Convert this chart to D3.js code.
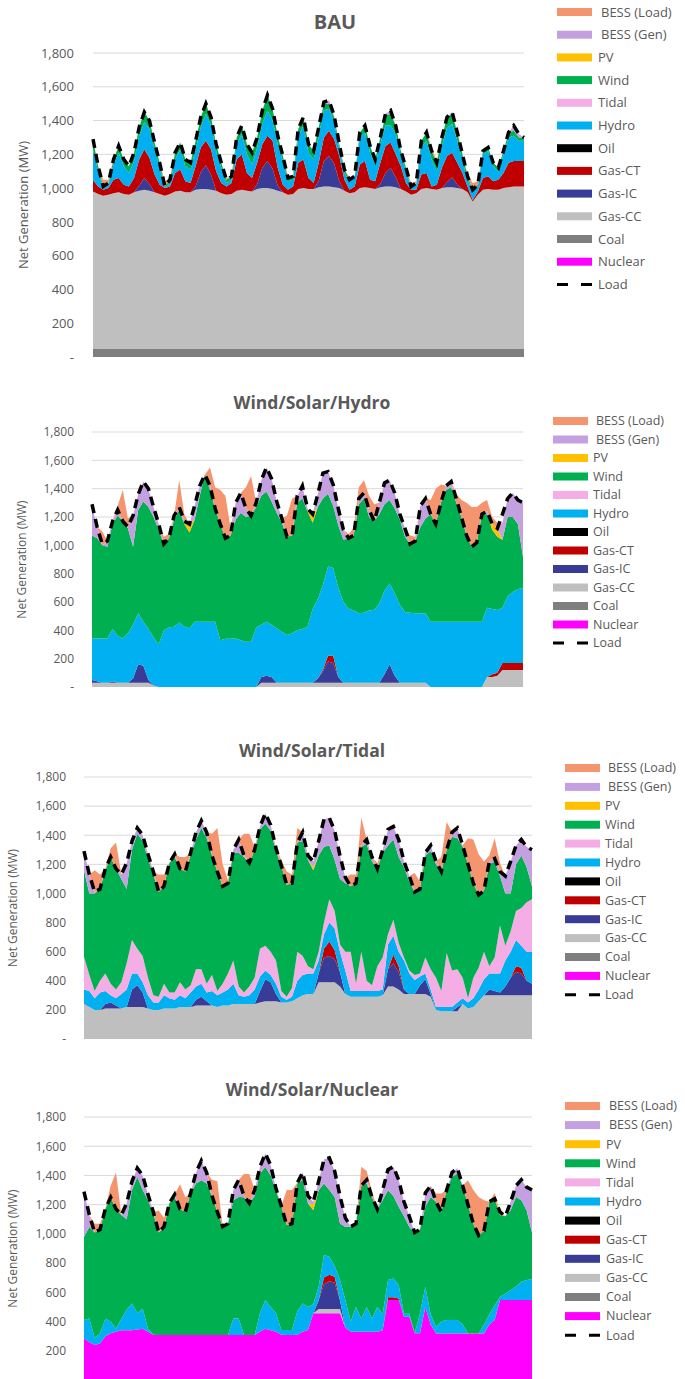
<!DOCTYPE html>
<html>
<head>
<meta charset="utf-8">
<script src="https://cdn.jsdelivr.net/npm/d3@7"></script>
<style>
  body { margin: 0; background: #fff; }
  svg { display: block; font-family: 'Open Sans', 'Liberation Sans', sans-serif; }
</style>
</head>
<body>
<div id="chart"></div>
<script>
// hour of the week, one point every 2 hours
const hours = d3.range(0, 169, 2);
const yTicks = [0, 200, 400, 600, 800, 1000, 1200, 1400, 1600, 1800];
const stackOrder = ['Nuclear', 'Coal', 'Gas-CC', 'Gas-IC', 'Gas-CT', 'Oil', 'Hydro', 'Tidal', 'Wind', 'PV', 'BESS (Gen)', 'BESS (Load)'];
const legendLabels = ['BESS (Load)', 'BESS (Gen)', 'PV', 'Wind', 'Tidal', 'Hydro', 'Oil', 'Gas-CT', 'Gas-IC', 'Gas-CC', 'Coal', 'Nuclear', 'Load'];

const load = [
  1290,1130,1010,1030,1170,1250,1170,1130,1210,1360,1450,1400,
  1270,1150,1010,1050,1210,1270,1170,1150,1280,1420,1500,1420,
  1260,1150,1050,1070,1300,1370,1260,1210,1300,1460,1550,1470,
  1310,1190,1060,1070,1350,1420,1260,1220,1360,1510,1520,1430,
  1260,1110,1050,1070,1330,1370,1250,1170,1300,1440,1460,1370,
  1220,1120,1010,1030,1280,1330,1220,1150,1300,1420,1450,1330,
  1200,1070,990,1020,1220,1240,1150,1120,1220,1330,1370,1320,1300
];

// ---- BAU ----
const bauCoal = [
  50,50,50,50,50,50,50,50,50,50,50,50,
  50,50,50,50,50,50,50,50,50,50,50,50,
  50,50,50,50,50,50,50,50,50,50,50,50,
  50,50,50,50,50,50,50,50,50,50,50,50,
  50,50,50,50,50,50,50,50,50,50,50,50,
  50,50,50,50,50,50,50,50,50,50,50,50,
  50,50,50,50,50,50,50,50,50,50,50,50,50
];
const bauGasCC = [
  930,915,905,910,920,925,915,910,925,935,940,935,
  925,915,905,915,930,935,925,925,940,945,945,940,
  935,920,910,915,935,940,935,930,945,950,950,945,
  935,925,910,915,945,950,945,945,955,960,960,955,
  950,935,920,925,950,955,950,945,955,960,960,955,
  945,930,910,920,945,950,945,940,950,955,955,950,
  945,925,870,910,940,945,940,940,950,955,960,960,960
];
const bauGasIC = [
  0,0,0,0,0,0,0,0,0,30,70,40,
  0,0,0,0,0,0,0,0,20,100,140,90,
  0,0,0,0,0,0,0,0,30,120,160,120,
  30,0,0,0,0,0,0,0,40,150,180,140,
  40,0,0,0,0,0,0,0,20,80,110,60,
  0,0,0,0,0,0,0,0,0,30,60,20,
  0,0,0,0,0,0,0,0,0,0,0,0,0
];
const bauGasCT = [
  70,45,35,40,80,85,55,50,85,155,170,155,
  105,55,45,45,110,125,65,55,120,145,145,150,
  115,60,50,65,185,210,105,80,125,140,150,165,
  105,45,30,45,155,170,65,35,105,140,150,145,
  150,65,20,35,140,155,50,45,125,160,150,135,
  135,50,30,20,85,90,15,30,120,155,145,130,
  95,35,10,20,70,75,50,60,90,145,150,150,150
];
const bauHydro = [
  180,90,10,20,90,150,110,80,100,140,160,170,
  150,100,0,20,80,120,90,80,100,120,160,140,
  120,90,20,20,90,120,110,80,90,120,150,120,
  140,140,50,40,160,200,150,140,160,160,130,100,
  50,40,50,50,160,170,160,100,110,120,100,120,
  60,70,10,30,160,190,160,80,130,170,170,130,
  70,40,50,30,140,150,90,50,110,150,150,120,120
];
const bauWind = [
  60,30,10,10,30,40,40,40,50,50,60,50,
  40,30,10,20,40,40,40,40,50,60,60,50,
  40,30,20,20,40,50,60,70,60,80,90,70,
  50,30,20,20,40,50,50,50,50,40,30,30,
  20,20,10,10,30,40,40,30,40,60,70,50,
  30,20,10,10,40,50,50,50,50,60,60,50,
  40,20,10,10,20,20,20,20,20,30,30,20,20
];
const bauBessGen = [
  0,0,0,0,0,0,0,0,0,0,0,0,
  0,0,0,0,0,0,0,0,0,0,0,0,
  0,0,0,0,0,0,0,0,0,0,0,0,
  0,0,0,0,0,0,0,0,0,10,20,10,
  0,0,0,0,0,0,0,0,0,10,20,0,
  0,0,0,0,0,0,0,0,0,0,10,0,
  0,0,0,0,0,0,0,0,0,0,30,20,0
];
const bauBessLoad = [
  0,0,40,20,0,0,0,0,0,0,0,0,
  0,0,30,10,0,0,0,0,0,0,0,0,
  0,0,10,0,0,0,0,0,0,0,0,0,
  0,0,15,0,0,0,0,0,0,0,0,0,
  0,0,15,0,0,0,0,0,0,0,0,0,
  0,0,20,10,0,0,20,10,0,0,0,0,
  0,10,40,20,0,0,0,0,0,0,0,0,0
];

// ---- Wind/Solar/Hydro ----
const wshGasCC = [
  30,30,30,30,30,30,30,30,30,30,30,30,
  10,0,0,0,0,0,0,0,0,0,0,0,
  0,0,0,0,0,0,0,0,0,30,30,30,
  30,30,30,30,30,30,30,30,30,30,30,30,
  30,30,30,30,30,30,30,30,30,30,30,30,
  30,30,30,30,30,30,0,0,0,0,0,0,
  0,0,0,0,0,70,70,80,120,120,120,120,120
];
const wshGasIC = [
  20,10,0,0,10,0,0,0,30,130,120,20,
  0,0,0,0,0,0,0,0,0,0,0,0,
  0,0,0,0,0,0,0,0,0,40,50,40,
  0,0,0,0,0,0,0,0,30,80,150,140,
  40,0,0,0,0,0,0,0,0,60,130,50,
  0,0,0,0,0,0,0,0,0,0,0,0,
  0,0,0,0,0,0,0,0,0,0,0,0,0
];
const wshGasCT = [
  0,0,0,0,0,0,0,0,0,0,0,0,
  0,0,0,0,0,0,0,0,0,0,0,0,
  0,0,0,0,0,0,0,0,0,0,0,0,
  0,0,0,0,0,0,0,0,0,10,40,50,
  0,0,0,0,0,0,0,0,0,0,0,0,
  0,0,0,0,0,0,0,0,0,0,0,0,
  0,0,0,0,0,0,20,20,50,50,50,50,50
];
const wshHydro = [
  293,303,313,313,370,330,313,350,380,360,310,360,
  340,300,400,420,425,455,425,414,460,460,460,460,
  460,330,340,340,343,330,320,320,420,370,380,370,
  384,360,337,350,370,380,395,520,560,600,630,620,
  630,570,525,510,490,495,510,515,560,590,570,580,
  550,500,495,490,490,490,460,460,460,460,460,460,
  460,460,460,460,460,490,460,443,390,470,500,520,530
];
const wshWind = [
  727,707,657,647,740,850,827,740,550,730,850,860,
  850,810,610,630,755,795,725,676,720,890,1040,930,
  800,820,710,730,837,900,880,890,850,910,920,870,
  816,770,693,690,900,920,815,610,650,610,515,440,
  440,440,495,530,770,805,660,625,630,610,590,600,
  600,530,485,510,610,670,760,690,840,930,950,840,
  740,610,530,560,760,660,560,517,480,560,530,460,220
];
const wshPV = [
  0,0,0,0,0,0,0,0,0,0,0,0,
  0,0,0,0,0,0,0,60,0,0,0,0,
  0,0,0,0,0,0,0,0,0,0,0,0,
  0,0,0,0,0,0,0,60,0,0,0,0,
  0,0,0,0,0,0,0,0,0,0,0,0,
  0,0,0,0,0,0,0,0,0,0,0,0,
  0,0,0,0,0,0,40,60,0,0,0,0,0
];
const wshBessGen = [
  200,80,0,40,20,40,0,10,220,110,140,130,
  70,40,0,0,30,20,20,0,100,70,0,30,
  0,0,0,0,120,140,60,0,30,110,170,160,
  80,30,0,0,50,90,20,0,90,180,155,150,
  120,70,0,0,40,40,50,0,80,150,140,110,
  40,60,0,0,150,140,0,0,0,30,40,0,
  0,0,0,0,0,20,0,0,120,130,170,170,380
];
const wshBessLoad = [
  0,0,100,0,0,30,220,60,0,0,0,0,
  0,0,50,30,0,190,50,0,0,0,0,130,
  150,240,300,50,0,0,150,280,0,0,0,0,
  0,0,150,260,0,0,0,0,0,0,0,0,
  0,0,30,50,80,90,100,120,0,0,0,0,
  0,0,60,30,0,0,100,250,130,0,0,60,
  120,230,280,250,80,80,50,40,0,0,0,0,0
];

// ---- Wind/Solar/Tidal ----
const wstGasCC = [
  240,220,200,200,210,210,210,210,220,220,220,220,
  210,200,200,210,210,210,220,220,220,230,230,230,
  230,220,230,230,240,240,240,240,240,250,260,260,
  260,250,250,260,280,300,310,310,390,390,390,390,
  360,310,290,290,290,290,290,290,300,360,360,340,
  310,310,310,310,310,290,200,190,190,190,190,240,
  210,220,260,300,300,300,300,300,300,300,300,300,300
];
const wstGasIC = [
  0,0,0,0,30,40,20,0,0,120,150,100,
  0,0,0,0,0,0,0,0,0,40,60,30,
  0,0,0,0,0,0,0,0,0,80,150,130,
  50,0,0,0,0,0,0,0,60,170,180,160,
  100,0,0,0,0,0,0,0,0,120,160,120,
  30,0,0,60,100,20,0,0,0,0,30,0,
  0,0,0,0,40,30,20,60,120,160,150,100,80
];
const wstGasCT = [
  0,0,0,0,0,0,0,0,0,0,0,0,
  0,0,0,0,0,0,0,0,0,0,0,0,
  0,0,0,0,0,0,0,0,0,0,0,0,
  0,0,0,0,0,0,0,0,0,60,100,60,
  0,0,0,0,0,0,0,0,0,0,60,40,
  0,0,0,0,0,0,0,0,0,0,0,0,
  0,0,0,0,0,0,0,0,0,40,40,0,0
];
const wstHydro = [
  100,110,80,120,90,50,50,100,120,110,80,70,
  90,50,50,90,70,60,80,60,100,90,90,60,
  100,80,90,110,140,60,50,60,100,100,60,50,
  70,40,20,30,120,140,140,140,90,100,130,150,
  140,160,40,40,40,40,40,40,40,170,130,100,
  200,140,95,60,40,30,20,30,30,30,30,40,
  40,60,80,110,110,120,130,180,180,180,150,200,220
];
const wstTidal = [
  225,110,50,80,120,80,60,80,180,230,170,180,
  120,50,40,80,40,50,90,60,50,120,100,60,
  110,30,60,110,160,60,30,60,80,190,170,160,
  160,40,20,60,200,130,50,30,60,80,160,120,
  50,130,270,50,270,70,40,170,220,70,110,60,
  20,20,35,20,110,140,200,110,370,250,230,140,
  30,140,150,190,50,110,330,100,140,200,260,340,360
];
const wstWind = [
  595,560,670,630,710,870,830,710,510,620,790,790,
  820,830,720,670,890,930,780,810,890,890,970,1000,
  820,820,670,620,740,920,930,850,880,820,840,830,
  750,860,770,720,750,790,730,680,660,520,370,350,
  450,470,450,690,720,940,850,670,720,610,550,590,
  620,610,570,580,700,810,780,820,710,920,900,900,
  920,650,500,420,700,660,340,360,260,320,360,240,90
];
const wstPV = [
  0,0,0,0,0,0,0,0,0,0,0,0,
  0,0,0,0,0,0,0,0,0,0,0,0,
  0,0,0,0,0,0,0,0,0,0,0,0,
  0,0,0,0,0,0,0,20,0,0,0,0,
  0,0,0,0,0,0,0,0,0,0,0,0,
  0,0,0,0,0,0,0,0,0,0,0,0,
  0,0,0,0,0,0,0,0,0,0,0,0,0
];
const wstBessGen = [
  130,130,10,0,10,0,0,30,180,60,40,40,
  30,20,0,0,0,20,0,0,20,50,50,40,
  0,0,0,0,20,90,10,0,0,20,70,40,
  20,0,0,0,0,60,30,40,100,190,190,200,
  160,40,0,0,10,30,30,0,20,110,90,120,
  40,40,0,0,20,40,20,0,0,30,70,10,
  0,0,0,0,20,20,30,120,220,130,110,140,250
];
const wstBessLoad = [
  0,0,150,100,0,60,180,0,0,0,0,0,
  0,0,120,80,0,0,80,100,0,0,0,0,
  150,300,150,20,0,0,150,200,20,0,0,0,
  0,40,90,60,100,0,0,0,0,0,0,0,
  0,0,80,60,190,0,0,40,0,0,0,0,
  0,0,130,50,0,0,0,100,190,0,0,0,
  180,300,280,200,40,140,60,0,0,0,0,0,0
];

// ---- Wind/Solar/Nuclear ----
const wsnNuclear = [
  285,260,240,250,300,320,330,340,340,340,345,350,
  330,310,308,308,308,308,308,308,308,308,308,308,
  308,308,308,308,308,308,308,308,308,330,350,340,
  330,310,308,308,310,330,342,456,456,456,456,456,
  456,360,330,330,330,330,330,330,340,547,547,547,
  433,433,320,320,500,380,319,319,319,319,319,319,
  319,319,319,319,380,410,547,547,547,547,547,547,547
];
const wsnGasCC = [
  0,0,0,0,0,0,0,0,0,0,0,0,
  0,0,0,0,0,0,0,0,0,0,0,0,
  0,0,0,0,0,0,0,0,0,0,0,0,
  0,0,0,0,0,0,0,0,30,30,30,30,
  30,0,0,0,0,0,0,0,0,0,0,0,
  0,0,0,0,0,0,0,0,0,0,0,0,
  0,0,0,0,0,0,0,0,0,0,0,0,0
];
const wsnGasIC = [
  0,0,0,0,0,0,0,0,0,0,0,0,
  0,0,0,0,0,0,0,0,0,0,0,0,
  0,0,0,0,0,0,0,0,0,0,0,0,
  0,0,0,0,0,0,0,0,60,170,190,180,
  60,0,0,0,0,0,0,0,0,0,0,0,
  0,0,0,0,0,0,0,0,0,0,0,0,
  0,0,0,0,0,0,0,0,0,0,0,0,0
];
const wsnGasCT = [
  0,0,0,0,0,0,0,0,0,0,0,0,
  0,0,0,0,0,0,0,0,0,0,0,0,
  0,0,0,0,0,0,0,0,0,0,0,0,
  0,0,0,0,0,0,0,0,0,45,45,40,
  0,0,0,0,0,0,0,0,0,20,20,10,
  0,0,0,0,0,0,0,0,0,0,0,0,
  0,0,0,0,0,0,0,0,0,0,0,0,0
];
const wsnHydro = [
  125,161,50,69,120,80,20,80,140,184,111,140,
  20,0,0,0,0,0,0,0,0,0,0,0,
  0,0,0,0,113,113,0,0,0,126,197,160,
  126,32,34,34,160,194,158,64,92,154,122,74,
  138,187,70,170,90,170,90,170,110,117,128,93,
  20,20,0,136,138,70,46,81,91,91,91,61,
  0,0,0,61,70,100,23,43,68,93,125,137,143
];
const wsnWind = [
  570,627,720,711,750,850,820,710,620,776,934,810,
  880,830,702,732,902,942,862,842,972,1037,1059,1037,
  952,842,742,762,809,832,942,902,952,957,911,900,
  843,848,718,728,880,843,708,642,661,490,457,473,
  387,501,650,570,910,845,830,670,780,615,565,535,
  667,595,683,574,547,803,855,750,890,980,1003,950,
  881,751,671,640,770,730,560,530,547,613,558,476,320
];
const wsnPV = [
  0,0,0,0,0,0,0,0,0,0,0,0,
  0,0,0,0,0,0,0,0,0,0,0,0,
  0,0,0,0,0,0,0,0,0,0,0,0,
  0,0,0,0,0,0,0,40,0,0,0,0,
  0,0,0,0,0,0,0,0,0,0,0,0,
  0,0,0,0,0,0,0,0,0,0,0,0,
  0,0,0,0,0,0,20,0,0,0,0,0,0
];
const wsnBessGen = [
  310,80,0,0,0,0,0,0,110,60,60,100,
  40,10,0,10,0,20,0,0,0,75,133,75,
  0,0,0,0,70,117,10,0,40,47,92,70,
  11,0,0,0,0,53,52,18,61,165,220,177,
  189,62,0,0,0,25,0,0,70,141,200,185,
  100,72,7,0,95,77,0,0,0,30,37,0,
  0,0,0,0,0,0,0,0,58,77,140,160,290
];
const wsnBessLoad = [
  0,0,60,40,0,80,250,0,0,0,0,0,
  0,0,150,60,0,0,170,100,0,0,0,0,
  110,210,0,0,0,0,150,200,0,0,0,0,
  0,0,240,230,0,0,0,0,0,0,0,0,
  0,0,0,0,130,60,40,0,0,0,0,0,
  0,0,0,0,0,0,56,126,0,0,0,0,
  167,230,263,210,0,40,0,0,0,0,0,0,0
];

const colors = {
  'Nuclear': '#ff00ff',
  'Coal': '#7f7f7f',
  'Gas-CC': '#bfbfbf',
  'Gas-IC': '#383c96',
  'Gas-CT': '#c00000',
  'Oil': '#000000',
  'Hydro': '#00b0f0',
  'Tidal': '#f5ade6',
  'Wind': '#00b050',
  'PV': '#ffc000',
  'BESS (Gen)': '#c5a0e0',
  'BESS (Load)': '#f4956f'
};

const panels = [
  {
    title: 'BAU', titleX: 335, titleY: 29, titleSize: 20,
    left: 93, right: 524, top: 53, bottom: 357, tickX: 74, tickSize: 13, showZero: true,
    axisTitleX: 23, legendX: 557, textX: 598, legendY: 12, legendStep: 22.7, legendSize: 13,
    series: {
      'Coal': bauCoal, 'Gas-CC': bauGasCC, 'Gas-IC': bauGasIC, 'Gas-CT': bauGasCT,
      'Hydro': bauHydro, 'Wind': bauWind, 'BESS (Gen)': bauBessGen, 'BESS (Load)': bauBessLoad
    }
  },
  {
    title: 'Wind/Solar/Hydro', titleX: 312, titleY: 409, titleSize: 17.5,
    left: 92, right: 523, top: 432, bottom: 687, tickX: 74, tickSize: 12, showZero: true,
    axisTitleX: 22, legendX: 553, textX: 593, legendY: 421, legendStep: 18.5, legendSize: 12.5,
    series: {
      'Gas-CC': wshGasCC, 'Gas-IC': wshGasIC, 'Gas-CT': wshGasCT, 'Hydro': wshHydro,
      'Wind': wshWind, 'PV': wshPV, 'BESS (Gen)': wshBessGen, 'BESS (Load)': wshBessLoad
    }
  },
  {
    title: 'Wind/Solar/Tidal', titleX: 312, titleY: 757, titleSize: 17.5,
    left: 84, right: 532, top: 777, bottom: 1039, tickX: 66, tickSize: 12, showZero: true,
    axisTitleX: 13, legendX: 565, textX: 605, legendY: 768, legendStep: 18.9, legendSize: 12.5,
    series: {
      'Gas-CC': wstGasCC, 'Gas-IC': wstGasIC, 'Gas-CT': wstGasCT, 'Hydro': wstHydro,
      'Tidal': wstTidal, 'Wind': wstWind, 'PV': wstPV, 'BESS (Gen)': wstBessGen, 'BESS (Load)': wstBessLoad
    }
  },
  {
    // the zero line of this panel falls just below the bottom edge of the page
    title: 'Wind/Solar/Nuclear', titleX: 312, titleY: 1096, titleSize: 17.5,
    left: 84, right: 532, top: 1117, bottom: 1380, tickX: 66, tickSize: 12, showZero: false,
    axisTitleX: 13, legendX: 565, textX: 606, legendY: 1106, legendStep: 19.1, legendSize: 12.5,
    series: {
      'Nuclear': wsnNuclear, 'Gas-CC': wsnGasCC, 'Gas-IC': wsnGasIC, 'Gas-CT': wsnGasCT,
      'Hydro': wsnHydro, 'Wind': wsnWind, 'PV': wsnPV, 'BESS (Gen)': wsnBessGen, 'BESS (Load)': wsnBessLoad
    }
  }
];

const svg = d3.select('#chart')
  .append('svg')
  .attr('width', 685)
  .attr('height', 1379);

panels.forEach(p => {
  const g = svg.append('g');

  const x = d3.scaleLinear()
    .domain([0, 168])
    .range([p.left, p.right]);
  const y = d3.scaleLinear()
    .domain([0, 1800])
    .range([p.bottom, p.top]);

  // gridlines
  g.selectAll('line.grid')
    .data(yTicks.filter(t => t > 0))
    .enter()
    .append('line')
    .attr('class', 'grid')
    .attr('x1', p.left)
    .attr('x2', p.right)
    .attr('y1', d => y(d))
    .attr('y2', d => y(d))
    .attr('stroke', '#d9d9d9')
    .attr('stroke-width', 1);

  // y axis labels
  const yAxis = d3.axisLeft(y)
    .tickValues(p.showZero ? yTicks : yTicks.filter(t => t > 0))
    .tickSize(0)
    .tickPadding(p.left - p.tickX)
    .tickFormat(d => d === 0 ? '-' : d3.format(',')(d));

  g.append('g')
    .attr('transform', `translate(${p.left},0)`)
    .call(yAxis)
    .call(a => a.select('.domain').remove())
    .selectAll('text')
    .attr('fill', '#595959')
    .style('font-size', p.tickSize + 'px')
    .style('font-family', "'Open Sans', sans-serif");

  g.append('text')
    .attr('transform', `translate(${p.axisTitleX},${(p.top + p.bottom) / 2}) rotate(-90)`)
    .attr('text-anchor', 'middle')
    .attr('dy', '0.35em')
    .attr('fill', '#595959')
    .style('font-size', p.tickSize + 'px')
    .text('Net Generation (MW)');

  g.append('text')
    .attr('x', p.titleX)
    .attr('y', p.titleY)
    .attr('text-anchor', 'middle')
    .attr('fill', '#595959')
    .style('font-size', p.titleSize + 'px')
    .style('font-weight', 'bold')
    .text(p.title);

  // stacked areas
  const keys = stackOrder.filter(k => p.series[k]);
  const table = hours.map((h, i) => {
    const row = { hour: h };
    keys.forEach(k => { row[k] = p.series[k][i]; });
    return row;
  });
  const layers = d3.stack().keys(keys)(table);

  const area = d3.area()
    .x(d => x(d.data.hour))
    .y0(d => y(d[0]))
    .y1(d => y(d[1]));

  g.selectAll('path.layer')
    .data(layers)
    .enter()
    .append('path')
    .attr('class', 'layer')
    .attr('fill', d => colors[d.key])
    .attr('d', area);

  const line = d3.line()
    .x((d, i) => x(hours[i]))
    .y(d => y(d));

  g.append('path')
    .datum(load)
    .attr('fill', 'none')
    .attr('stroke', '#000')
    .attr('stroke-width', 3.5)
    .attr('stroke-dasharray', '9,6')
    .attr('d', line);

  // legend
  const legend = g.selectAll('g.legend')
    .data(legendLabels)
    .enter()
    .append('g')
    .attr('class', 'legend')
    .attr('transform', (d, i) => `translate(0,${p.legendY + i * p.legendStep})`);

  legend.filter(d => d !== 'Load')
    .append('rect')
    .attr('x', p.legendX)
    .attr('y', -4)
    .attr('width', 35)
    .attr('height', 8)
    .attr('fill', d => colors[d]);

  legend.filter(d => d === 'Load')
    .append('line')
    .attr('x1', p.legendX)
    .attr('x2', p.legendX + 36)
    .attr('y1', 0)
    .attr('y2', 0)
    .attr('stroke', '#000')
    .attr('stroke-width', 3)
    .attr('stroke-dasharray', '11,13');

  legend.append('text')
    .attr('x', d => d.startsWith('BESS') ? p.textX + 3 : p.textX)
    .attr('y', 0)
    .attr('dy', '0.35em')
    .attr('fill', '#595959')
    .style('font-size', p.legendSize + 'px')
    .text(d => d);
});
</script>
</body>
</html>
